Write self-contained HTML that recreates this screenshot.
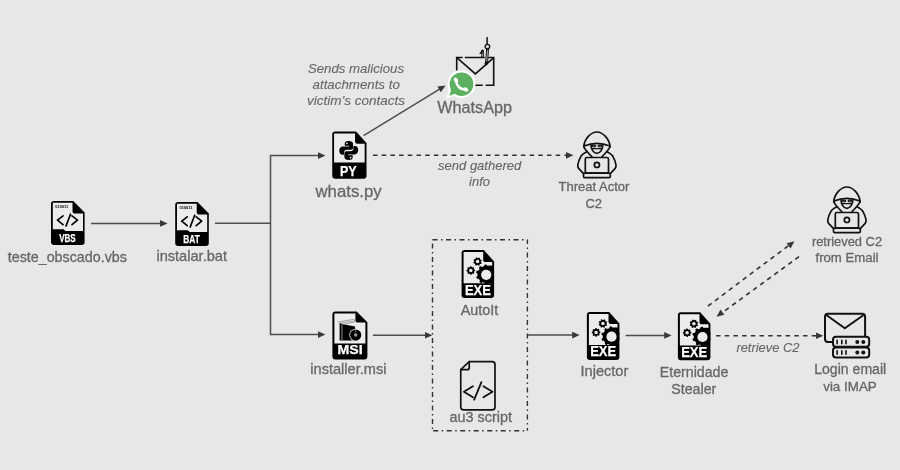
<!DOCTYPE html>
<html><head><meta charset="utf-8">
<style>
html,body{margin:0;padding:0;background:#e5e8e7;}
body{width:900px;height:470px;overflow:hidden;}
svg{display:block;will-change:transform;}
.lbl{font-family:"Liberation Sans",sans-serif;fill:#666;stroke:#666;stroke-width:0.3;text-anchor:middle;}
.it{font-style:italic;stroke-width:0.12;}
.ln{stroke:#4d4d4d;stroke-width:1.5;fill:none;}
.dl{stroke:#333;stroke-width:1.6;fill:none;stroke-dasharray:4.5 4.2;}
.ah{fill:#383838;}
.band{font-family:"Liberation Sans",sans-serif;font-weight:bold;fill:#fff;stroke:#fff;stroke-width:0.25;text-anchor:middle;}
</style></head>
<body>
<svg width="900" height="470" viewBox="0 0 900 470">
<defs>
  <!-- generic file w/ band: width 34, height 44 -->
  <g id="codefile">
    <path d="M3,0 H22.3 L33.6,11.5 V41 Q33.6,44 30.6,44 H3 Q0,44 0,41 V3 Q0,0 3,0Z" fill="#000"/>
    <path d="M1.8,1.8 H21.5 V10.5 Q21.5,12.5 23.5,12.5 H32 V29.9 H14.5 L12.5,28.2 H1.8Z" fill="#ececec"/>
    <path d="M12,14.8 L6.5,19.2 L12,23.6 M15,25 L19.5,13.2 M21,14.8 L26.5,19.2 L21,23.6" stroke="#000" stroke-width="1.7" fill="none" stroke-linecap="round" stroke-linejoin="round"/>
    <text x="10.8" y="7.4" font-family="Liberation Sans" font-weight="bold" font-size="3.6" fill="#000" text-anchor="middle" textLength="13" lengthAdjust="spacingAndGlyphs">010011</text>
  </g>
  <g id="exefile">
    <path d="M3,0 H22.3 L32.5,11.6 V45 Q32.5,48 29.5,48 H3 Q0,48 0,45 V3 Q0,0 3,0Z" fill="#000"/>
    <path d="M2,2 H21.6 V10.2 Q21.6,12 23.4,12 H30.6 V33.2 H2Z" fill="#ececec"/>
    <path d="M19.43,12.30 L20.13,12.96 L19.61,14.03 L18.65,13.88 L17.93,14.52 L17.96,15.48 L16.83,15.87 L16.26,15.09 L15.30,15.03 L14.64,15.73 L13.57,15.21 L13.72,14.25 L13.08,13.53 L12.12,13.56 L11.73,12.43 L12.51,11.86 L12.57,10.90 L11.87,10.24 L12.39,9.17 L13.35,9.32 L14.07,8.68 L14.04,7.72 L15.17,7.33 L15.74,8.11 L16.70,8.17 L17.36,7.47 L18.43,7.99 L18.28,8.95 L18.92,9.67 L19.88,9.64 L20.27,10.77 L19.49,11.34Z M17.75,11.60 A1.75,1.75 0 1 0 14.25,11.60 A1.75,1.75 0 1 0 17.75,11.60Z M12.27,22.18 L12.75,23.02 L11.93,23.89 L11.06,23.46 L10.19,23.86 L9.93,24.79 L8.73,24.82 L8.42,23.91 L7.52,23.57 L6.68,24.05 L5.81,23.23 L6.24,22.36 L5.84,21.49 L4.91,21.23 L4.88,20.03 L5.79,19.72 L6.13,18.82 L5.65,17.98 L6.47,17.11 L7.34,17.54 L8.21,17.14 L8.47,16.21 L9.67,16.18 L9.98,17.09 L10.88,17.43 L11.72,16.95 L12.59,17.77 L12.16,18.64 L12.56,19.51 L13.49,19.77 L13.52,20.97 L12.61,21.28Z M10.95,20.50 A1.75,1.75 0 1 0 7.45,20.50 A1.75,1.75 0 1 0 10.95,20.50Z" fill="#000" fill-rule="evenodd"/>
    <g clip-path="url(#paperclip)">
      <path d="M32.56,25.34 L33.95,26.23 L33.38,28.20 L31.73,28.22 L30.47,30.09 L31.07,31.63 L29.46,32.89 L28.11,31.93 L25.99,32.71 L25.57,34.30 L23.52,34.38 L22.99,32.81 L20.82,32.19 L19.54,33.24 L17.85,32.09 L18.34,30.52 L16.95,28.73 L15.30,28.83 L14.60,26.91 L15.92,25.92 L15.84,23.66 L14.45,22.77 L15.02,20.80 L16.67,20.78 L17.93,18.91 L17.33,17.37 L18.94,16.11 L20.29,17.07 L22.41,16.29 L22.83,14.70 L24.88,14.62 L25.41,16.19 L27.58,16.81 L28.86,15.76 L30.55,16.91 L30.06,18.48 L31.45,20.27 L33.10,20.17 L33.80,22.09 L32.48,23.08Z" fill="#000"/>
      <rect x="24.2" y="15.6" width="8" height="18" fill="#000"/>
    </g>
    <circle cx="24.6" cy="24.8" r="5.1" fill="#ececec"/>
  </g>
  <clipPath id="paperclip"><rect x="0" y="12.8" width="32.5" height="36"/></clipPath>
</defs>

<!-- ===== connectors ===== -->
<path class="ln" d="M91,223.4 H161"/>
<path class="ah" d="M160,220.1 L167.6,223.4 L160,226.8Z"/>
<path class="ln" d="M215,223.2 H270.5 M270.5,155.5 V334.5 M269.8,155.5 H319 M269.8,334.5 H319"/>
<path class="ah" d="M318,152.2 L325.4,155.5 L318,158.9Z"/>
<path class="ah" d="M318,331.2 L325.4,334.5 L318,337.9Z"/>
<path class="ln" d="M373,335.2 H426"/>
<path class="ah" d="M425,331.9 L432.4,335.2 L425,338.6Z"/>
<path class="ln" d="M527.4,335 H573"/>
<path class="ah" d="M572.2,331.7 L579.6,335 L572.2,338.4Z"/>
<path class="ln" d="M625.6,335.4 H665"/>
<path class="ah" d="M664.2,332.1 L671.6,335.4 L664.2,338.8Z"/>
<path class="ln" d="M363.6,135.6 L440,88.8" stroke="#2a2a2a"/>
<path class="ah" d="M445.6,85.4 L440.9,92.3 L437.4,86.6Z"/>
<path class="dl" d="M373,155.3 H567" stroke-dasharray="4.4 4.07"/>
<path class="ah" d="M566,152 L573.4,155.3 L566,158.7Z"/>
<path class="dl" d="M708,306 L789,245.2"/>
<path class="ah" d="M794.4,241.2 L790.6,248.6 L786.6,243.2Z"/>
<path class="dl" d="M799,256.6 L722,312.8"/>
<path class="ah" d="M716.6,316.8 L720.4,309.4 L724.4,314.8Z"/>
<path class="dl" d="M716,335.7 H817" stroke-dasharray="4.7 4.3"/>
<path class="ah" d="M816,332.4 L823.4,335.7 L816,339.1Z"/>

<!-- dash-dot box -->
<g fill="none" stroke="#333" stroke-width="1.4" stroke-dasharray="5 3.5 1.5 3.5">
  <path d="M432.5,239.8 H527.4"/>
  <path d="M527.4,239.8 V430.8" stroke-dashoffset="0.8"/>
  <path d="M432.5,239.8 V430.8" stroke-dashoffset="9.8"/>
  <path d="M432.5,430.8 H527.4" stroke-dashoffset="12.8"/>
</g>

<!-- ===== icons ===== -->
<g transform="translate(51,201)">
  <use href="#codefile"/>
  <text class="band" x="16.4" y="40.8" font-size="10.4" textLength="16.5" lengthAdjust="spacingAndGlyphs">VBS</text>
</g>
<g transform="translate(175.2,202)">
  <use href="#codefile"/>
  <text class="band" x="16.4" y="40.8" font-size="10.4" textLength="16.5" lengthAdjust="spacingAndGlyphs">BAT</text>
</g>

<!-- PY -->
<g transform="translate(332.25,131.45)">
  <path d="M3,0 H23.8 L34.25,11.5 V44.3 Q34.25,47.3 31.25,47.3 H3 Q0,47.3 0,44.3 V3 Q0,0 3,0Z" fill="#000"/>
  <path d="M1.8,2 H22.8 V10 Q22.8,12.2 25,12.2 H32.4 V31 H1.8Z" fill="#ececec"/>
  <g transform="translate(7,9.5) scale(0.79)">
    <path d="M12,0 C8,0 7,1.5 7,3.5 V6 H12.5 V7 H4.5 C2,7 0,9 0,12.5 C0,16 2,17.5 4,17.5 H6 V14.5 C6,12.5 7.5,11 9.5,11 H15 C16.5,11 17.5,10 17.5,8.5 V3.5 C17.5,1.5 15.5,0 12,0Z" fill="#000"/>
    <path d="M12,24 C16,24 17,22.5 17,20.5 V18 H11.5 V17 H19.5 C22,17 24,15 24,11.5 C24,8 22,6.5 20,6.5 H18 V9.5 C18,11.5 16.5,13 14.5,13 H9 C7.5,13 6.5,14 6.5,15.5 V20.5 C6.5,22.5 8.5,24 12,24Z" fill="#000"/>
    <circle cx="9.6" cy="3" r="1.1" fill="#ececec"/>
    <circle cx="14.4" cy="21" r="1.1" fill="#ececec"/>
  </g>
  <text class="band" x="16.1" y="44.2" font-size="14.3" textLength="16.7" lengthAdjust="spacingAndGlyphs">PY</text>
</g>

<!-- MSI -->
<g transform="translate(332.4,311.4)">
  <path d="M3,0 H24.2 L35,10.8 V45 Q35,48 32,48 H3 Q0,48 0,45 V3 Q0,0 3,0Z" fill="#000"/>
  <path d="M2,2 H23 V9 Q23,11 25,11 H33 V32 H2Z" fill="#ececec"/>
  <path d="M7.2,11.7 L10.8,12.9 L22.7,15 V29.2 H7.2Z" fill="#000"/>
  <path d="M9.6,13 V29" stroke="#ececec" stroke-width="0.6"/>
  <path d="M5.4,10.6 L21.5,7.9 M7.2,11.7 L22.7,9.4 M21.5,7.9 L22.7,9.4 M10.8,12.9 L22.7,10.5" stroke="#777" stroke-width="0.6" fill="none"/>
  <circle cx="23.25" cy="23.66" r="6.3" fill="#ececec"/>
  <circle cx="23.25" cy="23.66" r="5.6" fill="#000"/>
  <circle cx="23.25" cy="23.66" r="1.7" fill="#9a9a9a"/>
  <path d="M23.25,18.6 V21" stroke="#bbb" stroke-width="0.7"/>
  <text class="band" x="17.65" y="42.9" font-size="13" textLength="25.2" lengthAdjust="spacingAndGlyphs">MSI</text>
</g>

<!-- EXE icons -->
<g transform="translate(461.6,250)">
  <use href="#exefile"/>
  <text class="band" x="16.3" y="44.5" font-size="14.2" textLength="26" lengthAdjust="spacingAndGlyphs">EXE</text>
</g>
<g transform="translate(586.9,311.9)">
  <use href="#exefile"/>
  <text class="band" x="16.3" y="44.5" font-size="14.2" textLength="26" lengthAdjust="spacingAndGlyphs">EXE</text>
</g>
<g transform="translate(677.9,312.2)">
  <use href="#exefile"/>
  <text class="band" x="16.3" y="44.5" font-size="14.2" textLength="26" lengthAdjust="spacingAndGlyphs">EXE</text>
</g>

<!-- au3 script -->
<g transform="translate(459.9,360.7)" fill="none" stroke="#111" stroke-width="1.7" stroke-linejoin="round" stroke-linecap="round">
  <path d="M9.3,0.85 H32.2 Q35.1,0.85 35.1,3.7 V46.3 Q35.1,49.2 32.2,49.2 H3.7 Q0.85,49.2 0.85,46.3 V9 Z"/>
  <path d="M9.3,0.85 V7 Q9.3,9 7.3,9 H0.85"/>
  <path d="M13,25.5 L4,31 L13,36.5 M14.3,39 L21.5,21.5 M23.5,25.5 L32.6,31 L23.5,36.5" stroke-width="1.8"/>
</g>

<!-- hacker icon def inline -->
<g id="hacker" transform="translate(577,131.4)" fill="none" stroke="#111" stroke-width="1.7" stroke-linejoin="round" stroke-linecap="round">
  <path d="M6.8,15.4 C7.3,7.5 14,0.6 19.9,0.6 C25.8,0.6 32.5,7.5 33,15.4"/>
  <path d="M6.9,14.6 Q19.9,9.4 32.9,14.6"/>
  <path d="M14,13.4 C14,16.5 14.6,17.8 15.6,19.2 C16.7,20.9 18.1,21.9 19.9,21.9 C21.7,21.9 23.1,20.9 24.2,19.2 C25.2,17.8 25.8,16.5 25.8,13.4"/>
  <path d="M15.2,17.2 H24.6" stroke-width="1.2"/>
  <ellipse cx="17" cy="14.6" rx="1.8" ry="0.9" stroke-width="1.1"/>
  <ellipse cx="22.8" cy="14.6" rx="1.8" ry="0.9" stroke-width="1.1"/>
  <path d="M6.8,15.4 C8,18.5 11.5,22 15.1,25.6 M33,15.4 C31.8,18.5 28.3,22 24.7,25.6"/>
  <path d="M9.6,20.4 C7.5,21.5 5.5,22.5 4.3,24.3 C2.5,27.5 1.2,30.5 0.8,33.4 C0.6,35 0.9,36 1.6,37 L6.3,42 M30.2,20.4 C32.3,21.5 34.3,22.5 35.5,24.3 C37.3,27.5 38.6,30.5 39,33.4 C39.2,35 38.9,36 38.2,37 L33.5,42"/>
  <rect x="8.3" y="26.1" width="23.2" height="15.6" rx="1.6"/>
  <circle cx="19.9" cy="33.5" r="2.6"/>
  <rect x="6.5" y="41.7" width="26.8" height="4.6" rx="1.3"/>
</g>
<use href="#hacker" transform="translate(250,55)"/>

<!-- email + servers -->
<g transform="translate(824,312.8)" stroke="#111" stroke-width="2" fill="none" stroke-linejoin="round" stroke-linecap="round">
  <rect x="1" y="1" width="40.1" height="28.2" rx="3"/>
  <path d="M2,2 L20.8,15.5 L40,2"/>
  <rect x="9" y="24" width="36.2" height="10" rx="3" fill="#e5e8e7"/>
  <rect x="9" y="34.6" width="36.2" height="10" rx="3" fill="#e5e8e7"/>
  <path d="M13.1,27.5 V30.9 M17.8,27.5 V30.9 M22,27.5 V30.9 M13.1,38 V41.4 M17.8,38 V41.4 M22,38 V41.4" stroke-width="1.6"/>
  <circle cx="33.3" cy="29.2" r="2" fill="#111" stroke="none"/>
  <circle cx="39.3" cy="29.2" r="2" fill="#111" stroke="none"/>
  <circle cx="33.3" cy="39.8" r="2" fill="#111" stroke="none"/>
  <circle cx="39.3" cy="39.8" r="2" fill="#111" stroke="none"/>
</g>

<!-- envelope with hook + whatsapp -->
<g stroke="#111" stroke-width="1.6" fill="none">
  <path d="M456.7,70.5 V57.5 H462.6 M464.8,57.5 H484.8 M488.2,57.5 H493.7 V85.2 H485.6 M482.7,85.2 H475"/>
  <path d="M457.1,57.9 L475.4,73.9 L493.5,57.9"/>
  <path d="M487.1,37 V44.4" stroke-width="1.5"/>
  <circle cx="487.4" cy="46.6" r="2.3" stroke-width="1.3"/>
  <path d="M487.6,49 L486.6,62 Q486.4,64 485,64.6" stroke-width="2.9"/>
  <path d="M487.5,50.5 L486.7,61.5" stroke="#c8c8c8" stroke-width="0.9"/>
  <path d="M482.6,57.2 V50" stroke-width="2.6"/><path d="M482.6,56.5 V51.5" stroke="#c8c8c8" stroke-width="0.8"/>
</g>
<path d="M483,48.8 L479.2,53.8 L482.4,54Z" fill="#111"/>
<circle cx="461.5" cy="84.2" r="14" fill="#fff"/>
<path d="M446.2,98.8 L449.5,88 L456,95Z" fill="#fff"/>
<circle cx="461.5" cy="84.2" r="11.8" fill="#5cb060"/>
<path d="M449.3,95.7 L451.6,88.2 L456.2,93.2Z" fill="#5cb060"/>
<path d="M456.2,81 C456.5,86 460.5,89.6 465.3,89.8" stroke="#fff" stroke-width="2.6" fill="none" stroke-linecap="round"/>
<ellipse cx="456" cy="80.2" rx="2" ry="2.7" transform="rotate(-25 456 80.2)" fill="#fff"/>
<ellipse cx="465.7" cy="89.5" rx="2.7" ry="2" transform="rotate(25 465.7 89.5)" fill="#fff"/>

<!-- ===== labels ===== -->
<text class="lbl" x="67.35" y="261.5" font-size="14.3">teste_obscado.vbs</text>
<text class="lbl" x="191.7" y="261" font-size="14.6">instalar.bat</text>
<text class="lbl" x="348.6" y="196.6" font-size="16.8">whats.py</text>
<text class="lbl it" x="356" y="72.8" font-size="13.2">Sends malicious</text>
<text class="lbl it" x="356.2" y="88.8" font-size="13.3">attachments to</text>
<text class="lbl it" x="356.1" y="104.8" font-size="13.5">victim’s contacts</text>
<text class="lbl" x="474.6" y="112.5" font-size="16.2">WhatsApp</text>
<text class="lbl it" x="479.65" y="169.8" font-size="13">send gathered</text>
<text class="lbl it" x="479.5" y="186.1" font-size="13">info</text>
<text class="lbl" x="594" y="191" font-size="13">Threat Actor</text>
<text class="lbl" x="593.8" y="207.6" font-size="13">C2</text>
<text class="lbl" x="348.4" y="374.1" font-size="14.6">installer.msi</text>
<text class="lbl" x="479.5" y="314.6" font-size="14.4">AutoIt</text>
<text class="lbl" x="480.8" y="421.8" font-size="14.4">au3 script</text>
<text class="lbl" x="604.4" y="375.6" font-size="14.6">Injector</text>
<text class="lbl" x="694.1" y="376.6" font-size="14.2">Eternidade</text>
<text class="lbl" x="693.8" y="393.6" font-size="14.2">Stealer</text>
<text class="lbl" x="847" y="246" font-size="12.9">retrieved C2</text>
<text class="lbl" x="847" y="262.4" font-size="13.2">from Email</text>
<text class="lbl it" x="767.9" y="352.1" font-size="12.9">retrieve C2</text>
<text class="lbl" x="850.2" y="373.6" font-size="14.1">Login email</text>
<text class="lbl" x="850" y="390.8" font-size="13.4">via IMAP</text>
</svg>
</body></html>
